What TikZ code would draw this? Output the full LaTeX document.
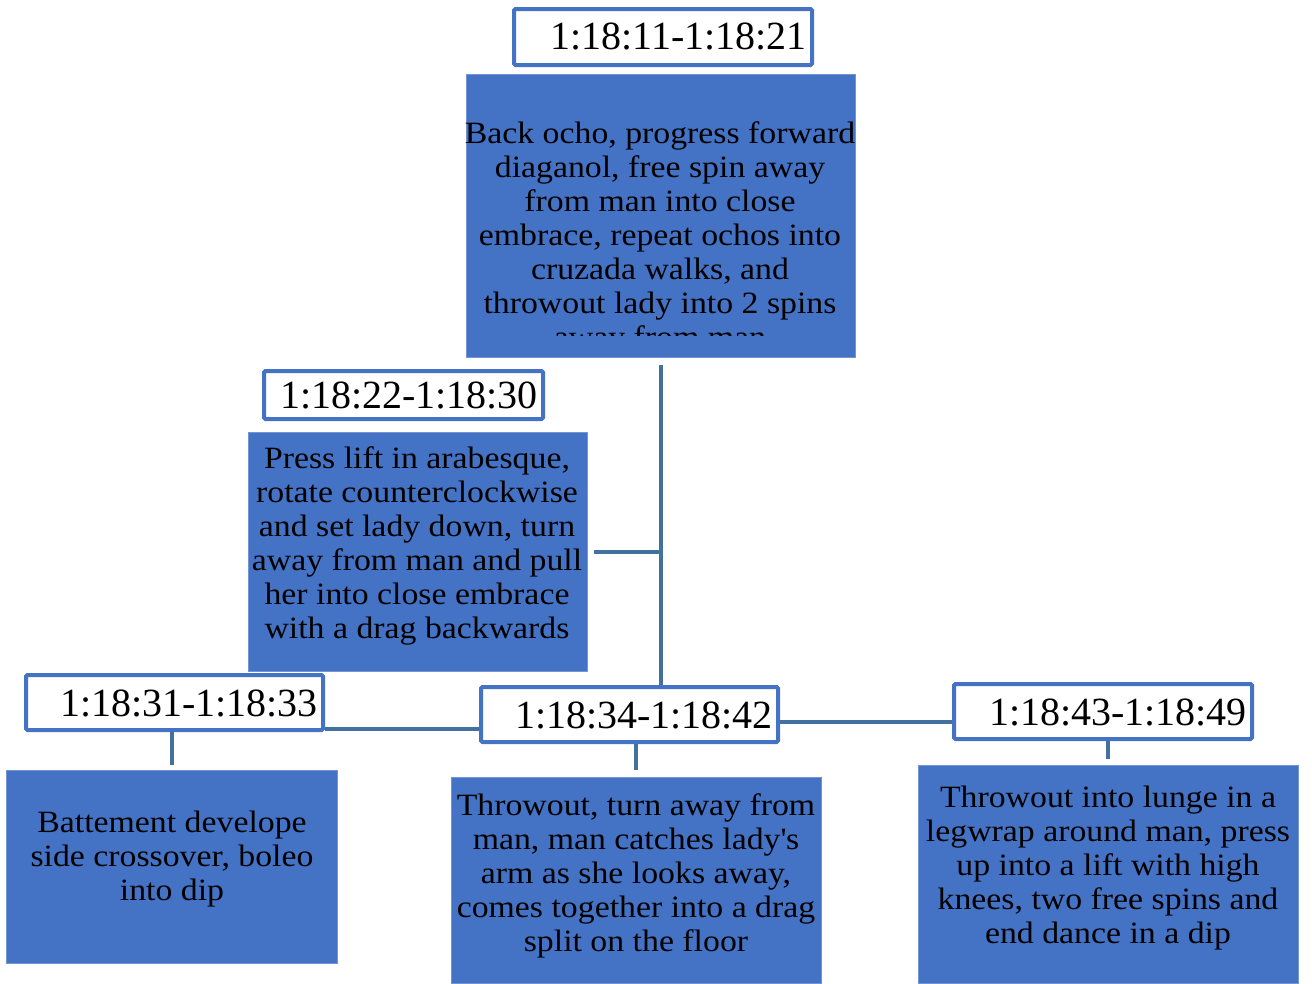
\documentclass[tikz,border=0pt]{standalone}
\usepackage{fontspec}
\setmainfont{Liberation Serif}
\newfontfamily\bodyfont{Liberation Serif}[FakeStretch=1.09]
\usetikzlibrary{calc}

\definecolor{boxblue}{HTML}{4472C4}
\definecolor{lineblue}{HTML}{41719C}

\tikzset{
  timebox/.style={draw=boxblue, line width=4pt, fill=white, rounded corners=1.5pt, inner sep=0pt},
  bodybox/.style={fill=boxblue, draw=boxblue!75!white, line width=1pt, inner sep=0pt},
  timetext/.style={font=\fontsize{40}{40}\selectfont, anchor=base east, inner sep=0pt},
  bodytext/.style={font=\bodyfont\fontsize{31}{34}\selectfont, align=center, anchor=north, inner sep=0pt},
  link/.style={draw=lineblue, line width=4pt}
}

\begin{document}
\begin{tikzpicture}[x=1pt,y=-1pt]

\useasboundingbox (0,0) rectangle (1312,983);

% Boxes
\node[bodybox, minimum width=389, minimum height=283] (b1) at (660.5,215.5) {};
\node[bodybox, minimum width=339, minimum height=239] (b2) at (417.5,551.5) {};
\node[bodybox, minimum width=331, minimum height=193] (b3) at (171.5,866.5) {};
\node[bodybox, minimum width=370, minimum height=206] (b4) at (636,880) {};
\node[bodybox, minimum width=380, minimum height=218] (b5) at (1108,874) {};

\node[timebox, minimum width=298, minimum height=56] (t1) at (663,37) {};
\node[timebox, minimum width=279, minimum height=48] (t2) at (403.5,395) {};
\node[timebox, minimum width=297, minimum height=55] (t3) at (174.5,702.5) {};
\node[timebox, minimum width=297, minimum height=55] (t4) at (629.5,714.5) {};
\node[timebox, minimum width=298, minimum height=55] (t5) at (1103,711.5) {};

% Times
\node[timetext] (t1txt) at ($(t1.east)+(-7,12)$) {1:18:11-1:18:21};
\node[timetext] (t2txt) at ($(t2.east)+(-7,13)$) {1:18:22-1:18:30};
\node[timetext] (t3txt) at ($(t3.east)+(-7,13.5)$) {1:18:31-1:18:33};
\node[timetext] (t4txt) at ($(t4.east)+(-7,13.5)$) {1:18:34-1:18:42};
\node[timetext] (t5txt) at ($(t5.east)+(-7,13.5)$) {1:18:43-1:18:49};

% Texte
\begin{scope}
\clip (b1.north west) rectangle ($(b1.south east)+(0,-22)$);
\node[bodytext] (b1txt) at (660,121) {Back ocho, progress forward\\diaganol, free spin away\\from man into close\\embrace, repeat ochos into\\cruzada walks, and\\throwout lady into 2 spins\\away from man};
\end{scope}
\node[bodytext] (b2txt) at (417,446) {Press lift in arabesque,\\rotate counterclockwise\\and set lady down, turn\\away from man and pull\\her into close embrace\\with a drag backwards};
\node[bodytext] (b3txt) at (172,811) {Battement develope\\side crossover, boleo\\into dip};
\node[bodytext] (b4txt) at (636,793) {Throwout, turn away from\\man, man catches lady\textquotesingle s\\arm as she looks away,\\comes together into a drag\\split on the floor};
\node[bodytext] (b5txt) at (1108,786) {Throwout into lunge in a\\legwrap around man, press\\up into a lift with high\\knees, two free spins and\\end dance in a dip};

% Liens
\draw[link] ($(b1.south)+(0,7)$) -- (b1.south |- t4.north);
\draw[link] ($(b2.east)+(6,0)$) -- (b1.south |- b2.east);

\coordinate (j3) at ($(t3.south east)+(0,-3)$);
\draw[link] (j3) -- (j3 -| t4.west);

\coordinate (j4) at ($(t4.east)+(0,7.5)$);
\draw[link] (j4) -- (j4 -| t5.west);

\draw[link] (b3.north |- t3.south) -- ($(b3.north)+(0,-5)$);
\draw[link] (b4.north |- t4.south) -- ($(b4.north)+(0,-7)$);
\draw[link] (b5.north |- t5.south) -- ($(b5.north)+(0,-6)$);

\end{tikzpicture}
\end{document}
